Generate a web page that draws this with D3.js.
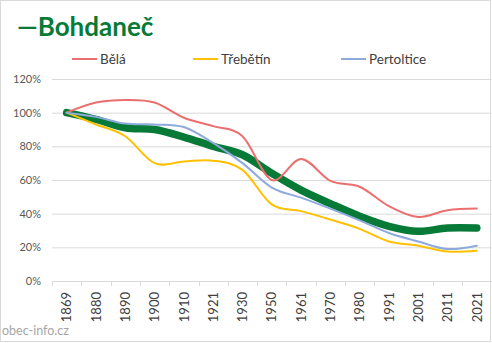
<!DOCTYPE html>
<html>
<head>
<meta charset="utf-8">
<script src="https://cdn.jsdelivr.net/npm/d3@7"></script>
<style>
  body { margin: 0; background: #fff; }
  svg { display: block; font-family: Lato, "Open Sans", sans-serif; }
</style>
</head>
<body>
<svg id="chart"></svg>
<script>
// Population index relative to 1869 (in %)
const years = ["1869", "1880", "1890", "1900", "1910", "1921", "1930", "1950", "1961", "1970", "1980", "1991", "2001", "2011", "2021"];
const bohdanec = [100, 96, 91, 90, 85.5, 80, 75, 64, 54, 46, 38.5, 32.5, 29.5, 31.5, 31.5];
const bela = [100, 106, 107.5, 106, 97, 92, 86, 60, 72.5, 59.5, 56, 44.5, 38, 42, 43];
const trebetin = [100, 93, 86, 70, 71, 71.5, 66, 45.5, 41.5, 36.5, 31, 23.5, 21, 17.5, 18];
const pertoltice = [100, 97.5, 93.5, 93, 91.5, 82, 70, 55.5, 49.5, 43, 36, 28.5, 23.5, 19, 21];
const yTicks = [0, 20, 40, 60, 80, 100, 120];

const width = 492, height = 343;
const plot = { left: 52, right: 491.5, top: 79, bottom: 281 };

const svg = d3.select("#chart")
  .attr("width", width)
  .attr("height", height);

// chart area border
svg.append("rect")
  .attr("x", 0.5).attr("y", 0.5)
  .attr("width", 490).attr("height", 341)
  .attr("fill", "#fff")
  .attr("stroke", "#d9d9d9");

const x = d3.scaleBand()
  .domain(years)
  .range([plot.left, plot.right])
  .paddingInner(0).paddingOuter(0);

const y = d3.scaleLinear()
  .domain([0, 120])
  .range([plot.bottom, plot.top]);

const cx = d => x(d) + x.bandwidth() / 2;

// gridlines + y labels
const yAxis = svg.append("g")
  .attr("transform", `translate(${plot.left},0)`)
  .call(d3.axisLeft(y).tickValues(yTicks).tickFormat(d => d + "%").tickSize(-(plot.right - plot.left)).tickPadding(11));
yAxis.select(".domain").remove();
yAxis.selectAll(".tick line").attr("stroke", "#d9d9d9");
yAxis.selectAll(".tick text")
  .attr("fill", "#595959")
  .style("font-size", "11px")
  .style("font-family", "Lato, sans-serif");

// x axis with tick marks between categories
const xAxis = svg.append("g")
  .attr("transform", `translate(0,${plot.bottom})`)
  .call(d3.axisBottom(x).tickSize(0).tickPadding(0));
xAxis.select(".domain").attr("stroke", "#d9d9d9").attr("d", `M${plot.left},0.5H${plot.right}`);
xAxis.selectAll(".tick text")
  .attr("transform", "rotate(-90)")
  .attr("x", -11)
  .attr("y", 0)
  .attr("dy", "0.36em")
  .attr("text-anchor", "end")
  .attr("fill", "#404040")
  .style("font-size", "13px")
  .style("font-family", "Lato, sans-serif");

const bounds = years.map(d => x(d)).concat([plot.right]);
xAxis.selectAll(".bound")
  .data(bounds)
  .enter()
  .append("line")
  .attr("class", "bound")
  .attr("x1", d => Math.round(d) + 0.5)
  .attr("x2", d => Math.round(d) + 0.5)
  .attr("y1", 0)
  .attr("y2", 5)
  .attr("stroke", "#d9d9d9");

// smoothed lines, Bohdaneč first so the others run over it
const series = [
  { name: "Bohdaneč", values: bohdanec, color: "#077a38", width: 7.5 },
  { name: "Bělá", values: bela, color: "#ec6f6f", width: 2 },
  { name: "Třebětín", values: trebetin, color: "#ffc000", width: 2 },
  { name: "Pertoltice", values: pertoltice, color: "#8eaadb", width: 2 }
];

const line = d3.line()
  .x((d, i) => cx(years[i]))
  .y(d => y(d))
  .curve(d3.curveCatmullRom.alpha(0));

svg.append("g")
  .selectAll("path")
  .data(series)
  .enter()
  .append("path")
  .attr("d", d => line(d.values))
  .attr("fill", "none")
  .attr("stroke", d => d.color)
  .attr("stroke-width", d => d.width)
  .attr("stroke-linecap", "round")
  .attr("stroke-linejoin", "round");

// legend
const legendItems = [
  { s: series[1], x: 72 },
  { s: series[2], x: 193 },
  { s: series[3], x: 341 }
];
const legend = svg.append("g");
legendItems.forEach(item => {
  legend.append("line")
    .attr("x1", item.x).attr("x2", item.x + 25)
    .attr("y1", 59).attr("y2", 59)
    .attr("stroke", item.s.color)
    .attr("stroke-width", 2);
  legend.append("text")
    .attr("x", item.x + 28)
    .attr("y", 63.5)
    .attr("fill", "#404040")
    .style("font-size", "13.5px")
    .text(item.s.name);
});

// title
svg.append("text")
  .attr("x", 17)
  .attr("y", 36)
  .attr("fill", "#077a38")
  .style("font-size", "26px")
  .style("font-weight", "bold")
  .text("—Bohdaneč");

// source
svg.append("text")
  .attr("x", 2)
  .attr("y", 335)
  .attr("fill", "#a6a6a6")
  .style("font-size", "12.5px")
  .text("obec-info.cz");
</script>
</body>
</html>
